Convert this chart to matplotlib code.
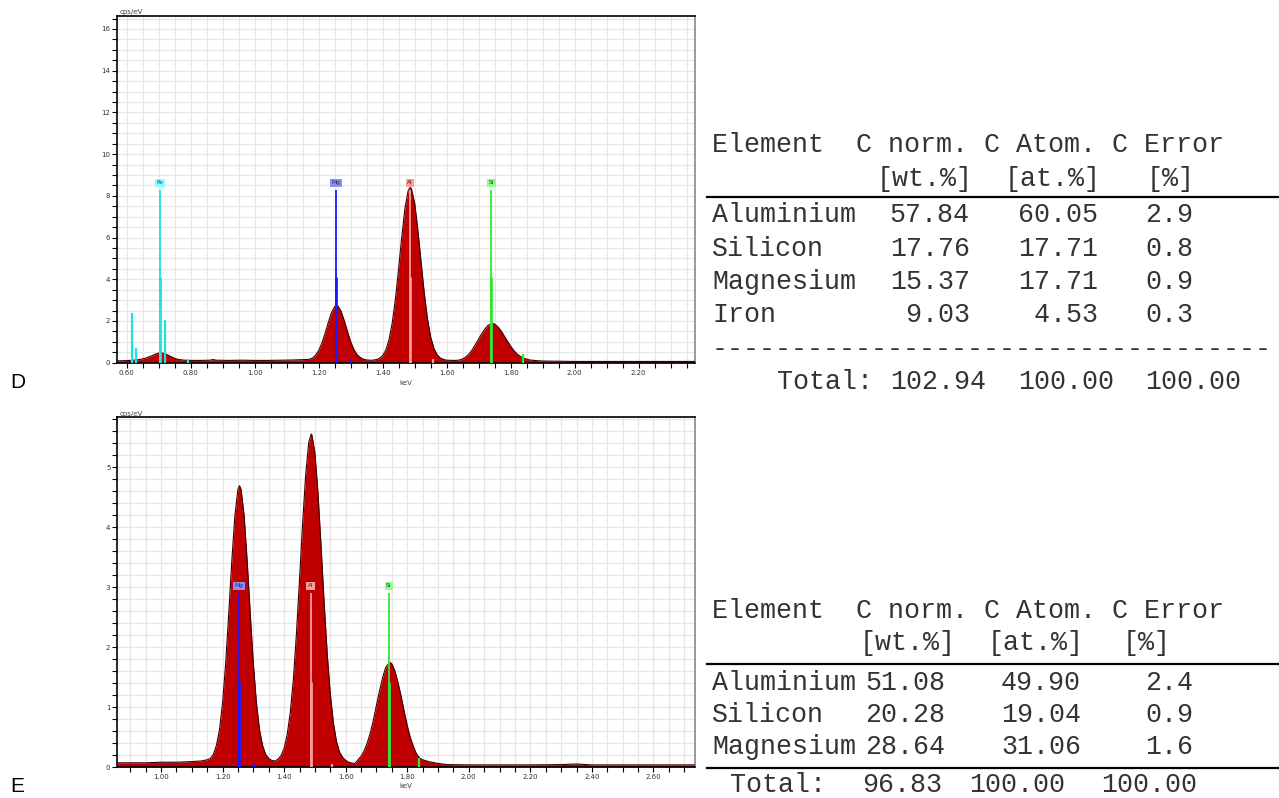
import matplotlib
matplotlib.use("Agg")
import matplotlib.pyplot as plt
from matplotlib.ticker import MultipleLocator, FormatStrFormatter

# ---------------- data: spectrum D ----------------
energy_D = [0.571, 0.60, 0.62, 0.64, 0.66, 0.68, 0.69, 0.70, 0.71, 0.72, 0.73, 0.74, 0.75,
            0.76, 0.78, 0.80, 0.83, 0.86, 0.87, 0.88, 0.92, 0.96, 1.00, 1.04, 1.08, 1.12,
            1.14, 1.16, 1.17, 1.18, 1.19, 1.20, 1.21, 1.22, 1.23, 1.24, 1.25, 1.256, 1.26,
            1.27, 1.28, 1.29, 1.30, 1.31, 1.32, 1.33, 1.34, 1.35, 1.36, 1.37, 1.38, 1.39,
            1.40, 1.41, 1.42, 1.43, 1.44, 1.45, 1.46, 1.47, 1.48, 1.486, 1.49, 1.50, 1.51,
            1.52, 1.53, 1.54, 1.55, 1.56, 1.57, 1.58, 1.59, 1.60, 1.62, 1.63, 1.64, 1.65,
            1.66, 1.67, 1.68, 1.69, 1.70, 1.71, 1.72, 1.73, 1.745, 1.75, 1.76, 1.77, 1.78,
            1.79, 1.80, 1.81, 1.82, 1.83, 1.84, 1.85, 1.86, 1.88, 1.90, 1.95, 2.00, 2.05,
            2.10, 2.15, 2.20, 2.25, 2.30, 2.375]
counts_D = [0.09, 0.10, 0.12, 0.15, 0.22, 0.34, 0.41, 0.46, 0.47, 0.43, 0.36, 0.28, 0.21,
            0.16, 0.12, 0.11, 0.11, 0.12, 0.15, 0.12, 0.11, 0.12, 0.11, 0.11, 0.12, 0.13,
            0.14, 0.15, 0.16, 0.22, 0.35, 0.58, 0.93, 1.40, 1.92, 2.39, 2.69, 2.74, 2.72,
            2.47, 2.02, 1.50, 1.01, 0.64, 0.39, 0.25, 0.17, 0.13, 0.12, 0.12, 0.15, 0.21,
            0.34, 0.61, 1.11, 1.91, 3.07, 4.52, 6.07, 7.43, 8.26, 8.40, 8.33, 7.65, 6.37,
            4.83, 3.34, 2.11, 1.24, 0.69, 0.39, 0.23, 0.16, 0.12, 0.11, 0.11, 0.13, 0.18,
            0.28, 0.42, 0.62, 0.88, 1.14, 1.40, 1.63, 1.80, 1.88, 1.85, 1.72, 1.53, 1.28,
            1.03, 0.79, 0.58, 0.42, 0.30, 0.22, 0.17, 0.13, 0.10, 0.08, 0.07, 0.06, 0.06,
            0.06, 0.06, 0.06, 0.06, 0.06, 0.06]

# ---------------- data: spectrum E ----------------
energy_E = [0.858, 0.90, 0.95, 1.00, 1.05, 1.10, 1.13, 1.15, 1.16, 1.17, 1.18, 1.19, 1.20,
            1.21, 1.22, 1.23, 1.24, 1.25, 1.255, 1.26, 1.27, 1.28, 1.29, 1.30, 1.31, 1.32,
            1.33, 1.34, 1.35, 1.36, 1.37, 1.38, 1.39, 1.40, 1.41, 1.42, 1.43, 1.44, 1.45,
            1.46, 1.47, 1.48, 1.488, 1.49, 1.50, 1.51, 1.52, 1.53, 1.54, 1.55, 1.56, 1.57,
            1.58, 1.59, 1.60, 1.61, 1.62, 1.63, 1.64, 1.65, 1.66, 1.67, 1.68, 1.69, 1.70,
            1.71, 1.72, 1.73, 1.743, 1.75, 1.76, 1.77, 1.78, 1.79, 1.80, 1.81, 1.82, 1.83,
            1.84, 1.85, 1.87, 1.90, 1.93, 2.00, 2.10, 2.20, 2.30, 2.35, 2.40, 2.50, 2.60,
            2.734]
counts_E = [0.07, 0.07, 0.07, 0.08, 0.08, 0.09, 0.10, 0.12, 0.14, 0.21, 0.36, 0.62, 1.07,
            1.72, 2.55, 3.43, 4.19, 4.63, 4.69, 4.63, 4.19, 3.43, 2.55, 1.72, 1.07, 0.62,
            0.36, 0.21, 0.14, 0.11, 0.10, 0.13, 0.19, 0.31, 0.54, 0.91, 1.46, 2.22, 3.12,
            4.05, 4.87, 5.41, 5.55, 5.54, 5.24, 4.57, 3.68, 2.74, 1.89, 1.22, 0.74, 0.43,
            0.25, 0.16, 0.11, 0.08, 0.065, 0.06, 0.12, 0.18, 0.27, 0.40, 0.57, 0.78, 1.03,
            1.27, 1.49, 1.66, 1.745, 1.72, 1.60, 1.41, 1.18, 0.93, 0.69, 0.49, 0.34, 0.22,
            0.15, 0.12, 0.09, 0.06, 0.04, 0.035, 0.035, 0.035, 0.04, 0.05, 0.035, 0.035, 0.035,
            0.035]

# ---------------- element marker lines ----------------
marker_names_D = ["Fe", "Mg", "Al", "Si"]
marker_energy_D = [0.705, 1.254, 1.486, 1.740]
minor_line_energy_D = [0.6156, 0.629, 0.719, 0.7925, 1.301, 1.556, 1.8375]
minor_line_height_D = [2.36, 0.69, 2.07, 0.20, 0.20, 0.20, 0.40]
minor_line_elem_D = ["Fe", "Fe", "Fe", "Fe", "Mg", "Al", "Si"]

marker_names_E = ["Mg", "Al", "Si"]
marker_energy_E = [1.254, 1.486, 1.740]
minor_line_energy_E = [1.302, 1.556, 1.837]
minor_line_height_E = [0.06, 0.05, 0.145]
minor_line_elem_E = ["Mg", "Al", "Si"]

line_color = {"Fe": "#22e0e0", "Mg": "#1a1aff", "Al": "#ff9a9a", "Si": "#33e633"}
box_color = {"Fe": "#88ffff", "Mg": "#8c8cff", "Al": "#ff9c9c", "Si": "#8cff8c"}

# ---------------- tables ----------------
tab_elements_D = ["Aluminium", "Silicon", "Magnesium", "Iron"]
tab_wt_D = ["57.84", "17.76", "15.37", " 9.03"]
tab_at_D = ["60.05", "17.71", "17.71", " 4.53"]
tab_err_D = ["2.9", "0.8", "0.9", "0.3"]
tab_total_D = ["102.94", "100.00", "100.00"]

tab_elements_E = ["Aluminium", "Silicon", "Magnesium"]
tab_wt_E = ["51.08", "20.28", "28.64"]
tab_at_E = ["49.90", "19.04", "31.06"]
tab_err_E = ["2.4", "0.9", "1.6"]
tab_total_E = ["96.83", "100.00", "100.00"]

# ---------------- figure ----------------
W, H = 1279, 798
fig = plt.figure(figsize=(W / 100, H / 100), dpi=100)
fig.patch.set_facecolor("white")


def fx(x):
    return x / W


def fy(y):
    return 1 - y / H


def spectrum(ax, e, c, xlim, ylim, ymajor, yminor, names, menergy, mtop, labely,
             mine, minh, minel, half):
    ax.set_axisbelow(True)
    ax.fill_between(e, 0, c, color="#c00000", lw=0, zorder=2)
    ax.plot(e, c, color="#3a0000", lw=0.8, zorder=3)
    for n, en in zip(names, menergy):
        ax.vlines(en, 0, mtop, color=line_color[n], lw=1.3, zorder=4)
        ax.vlines(en, 0, half, color=line_color[n], lw=2.0, zorder=4)
        ax.text(en, labely, n, fontsize=4.2, ha="center", va="center", color="#333333",
                zorder=5,
                bbox=dict(boxstyle="square,pad=0.25", fc=box_color[n], ec="none"))
    for en, hh, n in zip(mine, minh, minel):
        ax.vlines(en, 0, hh, color=line_color[n], lw=1.6, zorder=4)
    ax.set_xlim(*xlim)
    ax.set_ylim(*ylim)
    ax.xaxis.set_major_locator(MultipleLocator(0.2))
    ax.xaxis.set_minor_locator(MultipleLocator(0.05))
    ax.xaxis.set_major_formatter(FormatStrFormatter("%.2f"))
    ax.yaxis.set_major_locator(MultipleLocator(ymajor))
    ax.yaxis.set_minor_locator(MultipleLocator(yminor))
    ax.grid(True, which="both", color="#e6e6e6", lw=0.9)
    ax.tick_params(which="both", direction="out", length=3.5, width=0.8,
                   labelsize=5, labelcolor="#333333", pad=1.5)
    for s in ["left", "top", "bottom"]:
        ax.spines[s].set_color("black")
        ax.spines[s].set_linewidth(1.2)
    ax.spines["right"].set_color("#888888")
    ax.spines["right"].set_linewidth(1.2)


axD = fig.add_axes([fx(117.3), fy(362.7), (694.7 - 117.3) / W, (362.7 - 16) / H])
spectrum(axD, energy_D, counts_D, (0.571, 2.375), (0, 16.62), 2, 0.5,
         marker_names_D, marker_energy_D, 8.3, 8.63,
         minor_line_energy_D, minor_line_height_D, minor_line_elem_D, 4.1)

axE = fig.add_axes([fx(117.3), fy(767), (694.7 - 117.3) / W, (767 - 417.3) / H])
spectrum(axE, energy_E, counts_E, (0.858, 2.734), (0, 5.83), 1, 0.2,
         marker_names_E, marker_energy_E, 2.9, 3.02,
         minor_line_energy_E, minor_line_height_E, minor_line_elem_E, 1.42)

# axis captions
for ytop, ybot in [(12, 383), (413.5, 786.5)]:
    fig.text(fx(120), fy(ytop), "cps/eV", fontsize=5, color="#444444", ha="left", va="center")
    fig.text(fx(405.5), fy(ybot), "keV", fontsize=5, color="#444444", ha="center", va="center")

# panel letters
fig.text(fx(10), fy(382), "D", fontsize=15, family="Liberation Sans", ha="left", va="center")
fig.text(fx(10), fy(786), "E", fontsize=15, family="Liberation Sans", ha="left", va="center")

# ---------------- tables ----------------
MONO = dict(family="Liberation Mono", fontsize=19.2, color="#333333", va="baseline", ha="left")
BASE = 7.5


def t(x, yc, s):
    fig.text(fx(x), fy(yc + BASE), s, **MONO)


def hline(y):
    fig.add_artist(plt.Line2D([fx(707), fx(1279)], [fy(y), fy(y)], color="black", lw=1.6))


# Table D
t(712, 145, "Element  C norm. C Atom. C Error")
t(876.8, 178, "[wt.%]")
t(1004.5, 178, "[at.%]")
t(1147, 178, "[%]")
hline(197)
for i, yc in enumerate([214, 248, 282, 315]):
    t(712, yc, tab_elements_D[i])
    t(889.7, yc, tab_wt_D[i])
    t(1018.2, yc, tab_at_D[i])
    t(1145.3, yc, tab_err_D[i])
t(712, 348, "-" * 35)
t(776.8, 381, "Total:")
t(889.7, 381, tab_total_D[0])
t(1018.2, 381, tab_total_D[1])
t(1145.3, 381, tab_total_D[2])

# Table E
t(712, 610, "Element  C norm. C Atom. C Error")
t(860, 643, "[wt.%]")
t(988, 643, "[at.%]")
t(1123, 643, "[%]")
hline(664)
for i, yc in enumerate([682, 714, 747]):
    t(712, yc, tab_elements_E[i])
    t(865, yc, tab_wt_E[i])
    t(1001, yc, tab_at_E[i])
    t(1145, yc, tab_err_E[i])
hline(768)
t(730.5, 785, "Total:")
t(862, 785, tab_total_E[0])
t(969, 785, tab_total_E[1])
t(1101, 785, tab_total_E[2])

fig.savefig("out.png", dpi=100)
